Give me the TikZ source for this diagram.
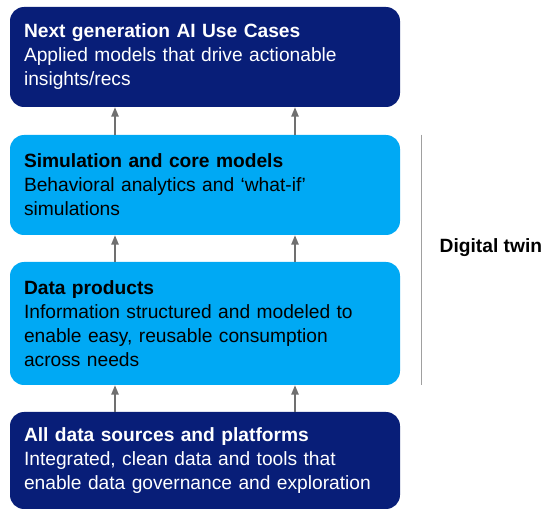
\documentclass[tikz,border=0pt]{standalone}
\usepackage{fontspec}
\setmainfont{Liberation Sans}
\usetikzlibrary{arrows.meta}

\definecolor{navyblue}{RGB}{8,30,120}
\definecolor{cyanblue}{RGB}{0,169,244}
\definecolor{arrowgrey}{RGB}{112,112,112}
\definecolor{linegrey}{RGB}{160,160,160}

\tikzset{
  layer/.style={rectangle, rounded corners=10.5pt, minimum width=292.5pt,
    text width=271.5pt, inner xsep=10.5pt, align=left,
    font=\fontsize{14.4}{18}\selectfont},
  darklayer/.style={layer, fill=navyblue, text=white},
  lightlayer/.style={layer, fill=cyanblue, text=black},
  flow/.style={draw=arrowgrey, line width=1.1pt, -{Triangle[length=7pt,width=5.5pt]}},
}

\begin{document}
\begin{tikzpicture}[x=0.75pt,y=0.75pt,yscale=-1,xscale=1]
\useasboundingbox (0,0) rectangle (544,510);

% Layer boxes
\node [darklayer, minimum height=75pt] (next) at (205,57)
  {\textbf{Next generation AI Use Cases}\\Applied models that drive actionable\\insights/recs};
\node [lightlayer, minimum height=75pt] (sim) at (205,185)
  {\textbf{Simulation and core models}\\Behavioral analytics and ‘what-if’\\simulations};
\node [lightlayer, minimum height=92.25pt] (data) at (205,323.5)
  {\textbf{Data products}\\Information structured and modeled to\\enable easy, reusable consumption\\across needs};
\node [darklayer, minimum height=72.75pt] (src) at (205,460.5)
  {\textbf{All data sources and platforms}\\Integrated, clean data and tools that\\enable data governance and exploration};

% Arrows between layers
\foreach \lo/\hi in {src/data, data/sim, sim/next}
  \foreach \dx in {-67.5pt, 67.5pt}
    \draw [flow] ([xshift=\dx]\lo.north) -- ([xshift=\dx]\hi.south);

% Digital twin bracket
\draw [linegrey, line width=1.1pt] ([xshift=15.75pt]sim.north east) -- ([xshift=15.75pt]data.south east);

% Text Node
\node [anchor=west, font=\fontsize{14.4}{18}\selectfont\bfseries] (twin) at (435,248) {Digital twin};

\end{tikzpicture}
\end{document}
